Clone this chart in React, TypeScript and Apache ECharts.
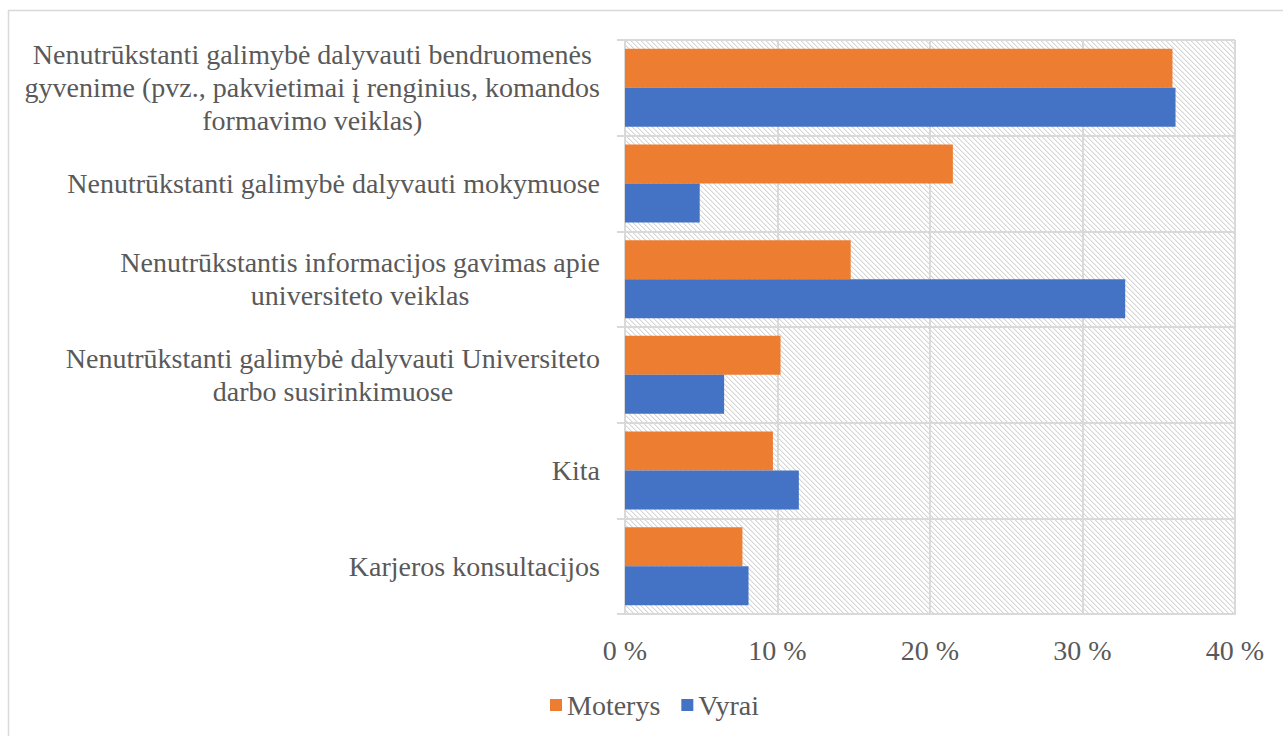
import React, { useEffect, useRef } from "react";
import * as echarts from "echarts";

const categories = [
  "Nenutrūkstanti galimybė dalyvauti bendruomenės\ngyvenime (pvz., pakvietimai į renginius, komandos\nformavimo veiklas)",
  "Nenutrūkstanti galimybė dalyvauti mokymuose",
  "Nenutrūkstantis informacijos gavimas apie\nuniversiteto veiklas",
  "Nenutrūkstanti galimybė dalyvauti Universiteto\ndarbo susirinkimuose",
  "Kita",
  "Karjeros konsultacijos",
];
const moterys = [35.9, 21.5, 14.8, 10.2, 9.7, 7.7];
const vyrai = [36.1, 4.9, 32.8, 6.5, 11.4, 8.1];
const seriesNames = ["Moterys", "Vyrai"];

const FONT = "Liberation Serif";
const FS = 28;
const TEXT = "#595959";
const LINE = "#d9d9d9";

function makeHatch(): string {
  const c = document.createElement("canvas");
  c.width = 5;
  c.height = 5;
  const ctx = c.getContext("2d")!;
  ctx.fillStyle = "#ffffff";
  ctx.fillRect(0, 0, 5, 5);
  for (let i = 0; i < 5; i++) {
    ctx.fillStyle = "#d6d6d6";
    ctx.fillRect(i, i, 1, 1);
    ctx.fillStyle = "#ededed";
    ctx.fillRect((i + 1) % 5, i, 1, 1);
  }
  return c.toDataURL();
}

export default function App() {
  const ref = useRef<HTMLDivElement>(null);
  useEffect(() => {
    if (!ref.current) return;
    const chart = echarts.init(ref.current, undefined, { renderer: "svg" });
    const hatch = makeHatch();
    chart.setOption({
      animation: false,
      backgroundColor: "#ffffff",
      textStyle: { fontFamily: FONT, fontSize: FS, color: TEXT },
      graphic: [
        {
          type: "rect",
          shape: { x: 8.5, y: 10.5, width: 1300, height: 800 },
          style: { fill: "none", stroke: LINE, lineWidth: 1.5 },
          silent: true,
          z: -10,
        },
      ],
      grid: {
        left: 625,
        right: 48,
        top: 40,
        bottom: 122,
        containLabel: false,
        outerBoundsMode: "none",
        show: true,
        borderWidth: 0,
        backgroundColor: { image: hatch, repeat: "repeat" },
      },
      legend: {
        data: seriesNames,
        left: 545,
        top: 686,
        icon: "rect",
        itemWidth: 12,
        itemHeight: 12,
        itemGap: 21,
        textStyle: { fontFamily: FONT, fontSize: FS, color: TEXT },
      },
      xAxis: {
        type: "value",
        min: 0,
        max: 40,
        interval: 10,
        axisLine: { show: true, lineStyle: { color: LINE, width: 2 } },
        axisTick: { show: false },
        splitLine: { show: true, lineStyle: { color: LINE, width: 2 } },
        axisLabel: {
          formatter: (v: number) => `${v} %`,
          fontFamily: FONT,
          fontSize: FS,
          color: TEXT,
          margin: 22,
        },
      },
      yAxis: {
        type: "category",
        inverse: true,
        data: categories,
        axisLine: { show: true, lineStyle: { color: LINE, width: 2 } },
        axisTick: { show: true, length: 8, lineStyle: { color: LINE, width: 2 } },
        splitLine: { show: true, lineStyle: { color: LINE, width: 2 } },
        axisLabel: {
          margin: 25,
          fontFamily: FONT,
          fontSize: FS,
          lineHeight: 33,
          color: TEXT,
          formatter: (v: string) =>
            v
              .split("\n")
              .map((l) => `{c|${l}}`)
              .join("\n"),
          rich: {
            c: {
              align: "center",
              fontFamily: FONT,
              fontSize: FS,
              lineHeight: 33,
              color: TEXT,
            },
          },
        },
      },
      series: [
        {
          name: seriesNames[0],
          type: "bar",
          data: moterys,
          barWidth: 39,
          barGap: "0%",
          itemStyle: { color: "#ED7D31" },
        },
        {
          name: seriesNames[1],
          type: "bar",
          data: vyrai,
          barWidth: 39,
          barGap: "0%",
          itemStyle: { color: "#4472C4" },
        },
      ],
    });
    return () => chart.dispose();
  }, []);
  return (
    <div
      ref={ref}
      style={{ position: "absolute", left: 0, top: 0, width: 1283, height: 736 }}
    />
  );
}
